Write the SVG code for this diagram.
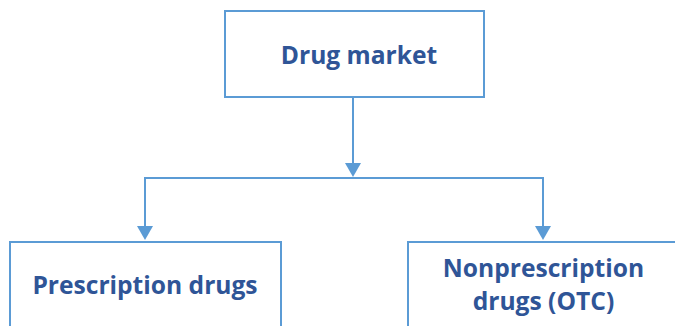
<svg xmlns="http://www.w3.org/2000/svg" width="675" height="326" viewBox="0 0 675 326">
<style>
.box{fill:#fff;stroke:#5B9BD5;stroke-width:2}
.lbl{font-family:"Open Sans","Noto Sans","Liberation Sans",sans-serif;font-weight:bold;font-size:24.6px;fill:#2F5597;text-anchor:middle}
.ln{fill:none;stroke:#5B9BD5;stroke-width:2}
.ah{fill:#5B9BD5}
</style>
<rect width="675" height="326" fill="#fff"/>
<g id="connectors">
<line class="ln" x1="353" y1="97" x2="353" y2="163"/>
<path class="ah" d="M345,163 L361,163 L353,177 Z"/>
<polyline class="ln" points="145,226 145,178 543,178 543,226"/>
<path class="ah" d="M137,226 L153,226 L145,240 Z"/>
<path class="ah" d="M535,226 L551,226 L543,240 Z"/>
</g>
<g id="drug-market">
<rect class="box" x="225" y="11" width="259" height="86"/>
<text class="lbl" x="359" y="63.5">Drug market</text>
</g>
<g id="prescription">
<rect class="box" x="10" y="242" width="271" height="100"/>
<text class="lbl" x="145" y="294">Prescription drugs</text>
</g>
<g id="nonprescription">
<rect class="box" x="408" y="242" width="271" height="100"/>
<text class="lbl" x="543.5" y="277">Nonprescription</text>
<text class="lbl" x="543.5" y="310">drugs (OTC)</text>
</g>
</svg>
